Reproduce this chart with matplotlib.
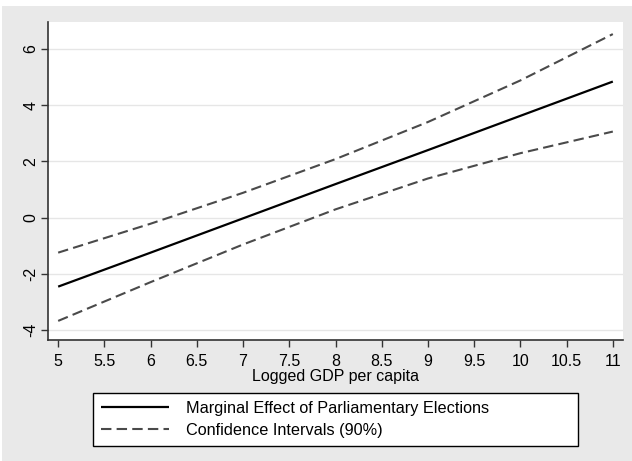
import matplotlib.pyplot as plt
from matplotlib.patches import Rectangle

# Values
gdp = [5, 6, 7, 8, 9, 10, 11]
effect = [-2.46, -1.25, -0.03, 1.19, 2.40, 3.62, 4.84]
ci_upper = [-1.25, -0.22, 0.88, 2.08, 3.40, 4.88, 6.53]
ci_lower = [-3.68, -2.30, -0.96, 0.29, 1.39, 2.29, 3.06]

x_ticks = [5, 5.5, 6, 6.5, 7, 7.5, 8, 8.5, 9, 9.5, 10, 10.5, 11]
y_ticks = [-4, -2, 0, 2, 4, 6]

plt.rcParams['font.family'] = ['Liberation Sans', 'DejaVu Sans']

W, H = 632, 461
fig = plt.figure(figsize=(W / 100, H / 100), dpi=100, facecolor='white')
# Stata-style grey outer region
fig.patches.append(Rectangle((2 / W, 0), 1, 1 - 6 / H, transform=fig.transFigure,
                             facecolor='#e9e9e9', edgecolor='none', zorder=-10))

ax = fig.add_axes([48 / W, 1 - 340 / H, (623 - 48) / W, (340 - 22) / H])
ax.set_facecolor('white')

ax.plot(gdp, effect, color='black', lw=1.6, solid_capstyle='butt',
        label='Marginal Effect of Parliamentary Elections')
ax.plot(gdp, ci_upper, color='#4a4a4a', lw=1.5, dashes=(5, 2.5),
        label='Confidence Intervals (90%)')
ax.plot(gdp, ci_lower, color='#4a4a4a', lw=1.5, dashes=(5, 2.5))

ax.set_xlim(4.89, 11.11)
ax.set_ylim(-4.36, 6.96)
ax.set_xticks(x_ticks)
ax.set_xticklabels([f'{t:g}' for t in x_ticks])
ax.set_yticks(y_ticks)
ax.set_yticklabels([f'{t:g}' for t in y_ticks], rotation=90, va='center')
ax.yaxis.grid(True, color='#e6e6e6', lw=1)
ax.set_axisbelow(True)

for side in ['top', 'right']:
    ax.spines[side].set_visible(False)
for side in ['left', 'bottom']:
    ax.spines[side].set_color('#333333')
    ax.spines[side].set_linewidth(1.2)
ax.tick_params(direction='out', length=5, width=1, color='#333333',
               labelsize=11.5)
ax.tick_params(axis='x', pad=5)
ax.tick_params(axis='y', pad=2)

ax.set_xlabel('Logged GDP per capita', fontsize=11.5, labelpad=0)

leg = fig.legend(loc='upper left',
                 bbox_to_anchor=(93 / W, 1 - 445 / H, (578 - 93) / W, 52 / H),
                 mode='expand', ncol=1, frameon=True, fancybox=False,
                 fontsize=11.7, handlelength=4.2, borderpad=0.5,
                 labelspacing=0.4, handletextpad=1.0, borderaxespad=0)
leg.get_frame().set_edgecolor('black')
leg.get_frame().set_linewidth(1)
leg.get_frame().set_facecolor('white')
leg.get_frame().set_alpha(1)

fig.savefig('out.png', dpi=100, facecolor=fig.get_facecolor())
